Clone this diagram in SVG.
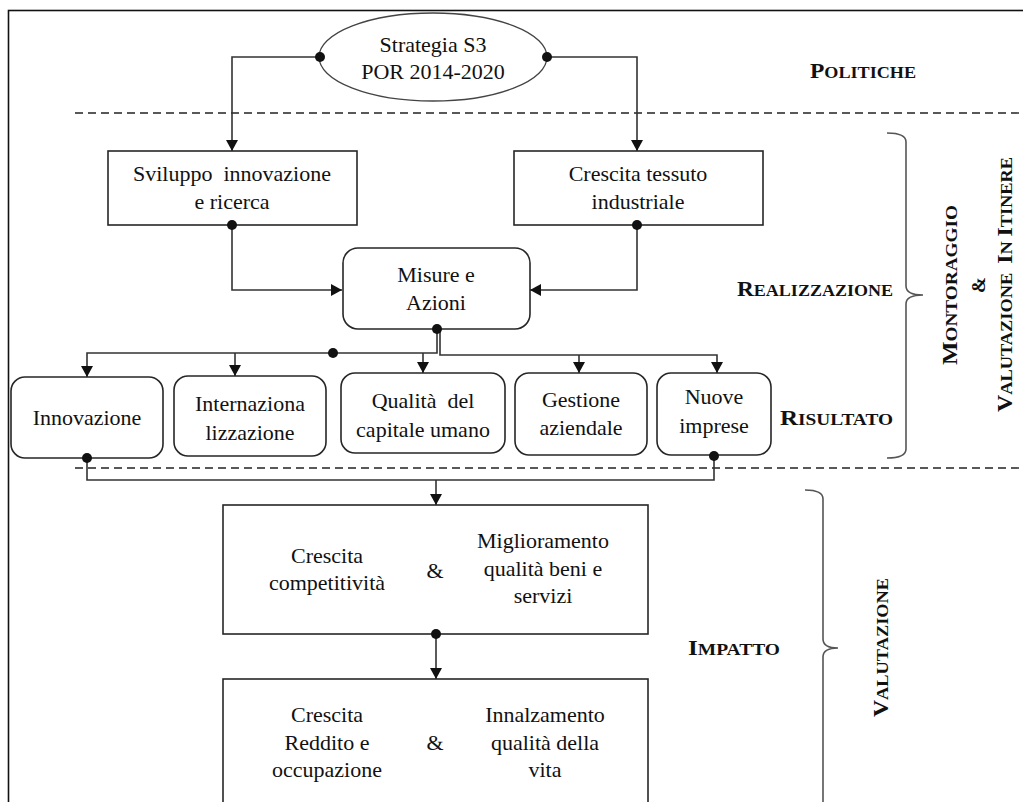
<svg xmlns="http://www.w3.org/2000/svg" width="1023" height="802" viewBox="0 0 1023 802">
<style>
.t{font-family:"Liberation Serif","Times New Roman",serif;font-size:22px;fill:#111;text-anchor:middle;white-space:pre}
.h{font-family:"Liberation Serif","Times New Roman",serif;font-weight:bold;fill:#111;white-space:pre}
.big{font-size:22px}
.sm{font-size:17px}
.box{fill:#fff;stroke:#262626;stroke-width:1.6}
.ell{fill:#fff;stroke:#444;stroke-width:1.3}
.con{fill:none;stroke:#333;stroke-width:1.6}
.arr{marker-end:url(#arr)}
.dash{stroke:#222;stroke-width:1.4;stroke-dasharray:8 5;fill:none}
.brace{fill:none;stroke:#555;stroke-width:1.6}
.dot{fill:#111}
</style>
<defs>
<marker id="arr" viewBox="0 0 11 12" refX="11" refY="6" markerWidth="11" markerHeight="12" markerUnits="userSpaceOnUse" orient="auto">
<path d="M0,0 L11,6 L0,12 z" fill="#111"/>
</marker>
</defs>
<rect width="1023" height="802" fill="#fff"/>
<rect x="8.5" y="10.5" width="1100" height="1000" fill="none" stroke="#111" stroke-width="1.6"/>

<g id="separators">
<line class="dash" x1="75" y1="113" x2="1023" y2="113"/>
<line class="dash" x1="75" y1="468" x2="1023" y2="468"/>
</g>

<g id="braces">
<path class="brace" d="M887,133 Q906,133 906,142 L906,286 Q906,295 923,295 Q906,295 906,304 L906,449 Q906,458 887,458"/>
<path class="brace" d="M805,490 Q823,490 823,499 L823,639 Q823,648 838,648 Q823,648 823,657 L823,810"/>
</g>

<g id="connectors">
<path class="con arr" d="M320,57 H232 V151"/>
<path class="con arr" d="M547,57 H637 V151"/>
<path class="con arr" d="M232,225 V290 H342"/>
<path class="con arr" d="M637,225 V290 H530"/>
<path class="con arr" d="M437,329 V353 H87 V377"/>
<path class="con arr" d="M235,353 V376"/>
<path class="con arr" d="M423,353 V373"/>
<path class="con arr" d="M440,329 V355 H717 V373"/>
<path class="con arr" d="M579,355 V373"/>
<path class="con" d="M87,458 V480 H714 V456"/>
<path class="con arr" d="M436,480 V505"/>
<path class="con arr" d="M436,634 V679"/>
</g>

<g id="strategia">
<ellipse class="ell" cx="433" cy="57" rx="114" ry="44"/>
<text class="t" x="433" y="52">Strategia S3</text>
<text class="t" x="433" y="79">POR 2014-2020</text>
</g>

<g id="sviluppo">
<rect class="box" x="108" y="151" width="249" height="74"/>
<text class="t" x="232" y="181">Sviluppo  innovazione</text>
<text class="t" x="232" y="209">e ricerca</text>
</g>

<g id="crescita-tessuto">
<rect class="box" x="514" y="151" width="249" height="74"/>
<text class="t" x="638" y="181">Crescita tessuto</text>
<text class="t" x="638" y="209">industriale</text>
</g>

<g id="misure">
<rect class="box" x="343" y="248" width="187" height="81" rx="15"/>
<text class="t" x="436" y="282">Misure e</text>
<text class="t" x="436" y="310">Azioni</text>
</g>

<g id="innovazione">
<rect class="box" x="11" y="377" width="152" height="81" rx="14"/>
<text class="t" x="87" y="425">Innovazione</text>
</g>

<g id="internazionalizzazione">
<rect class="box" x="174" y="376" width="152" height="80" rx="14"/>
<text class="t" x="250" y="411">Internaziona</text>
<text class="t" x="250" y="440">lizzazione</text>
</g>

<g id="qualita">
<rect class="box" x="341" y="373" width="164" height="80" rx="14"/>
<text class="t" x="423" y="408">Qualità  del</text>
<text class="t" x="423" y="437">capitale umano</text>
</g>

<g id="gestione">
<rect class="box" x="515" y="373" width="132" height="82" rx="14"/>
<text class="t" x="581" y="407">Gestione</text>
<text class="t" x="581" y="435">aziendale</text>
</g>

<g id="nuove">
<rect class="box" x="657" y="373" width="114" height="82" rx="14"/>
<text class="t" x="714" y="404">Nuove</text>
<text class="t" x="714" y="433">imprese</text>
</g>

<g id="impatto1">
<rect class="box" x="223" y="505" width="425" height="129"/>
<text class="t" x="327" y="563">Crescita</text>
<text class="t" x="327" y="590">competitività</text>
<text class="t" x="435" y="578">&amp;</text>
<text class="t" x="543" y="548">Miglioramento</text>
<text class="t" x="543" y="576">qualità beni e</text>
<text class="t" x="543" y="603">servizi</text>
</g>

<g id="impatto2">
<rect class="box" x="223" y="679" width="425" height="200"/>
<text class="t" x="327" y="722">Crescita</text>
<text class="t" x="327" y="750">Reddito e</text>
<text class="t" x="327" y="777">occupazione</text>
<text class="t" x="435" y="750">&amp;</text>
<text class="t" x="545" y="722">Innalzamento</text>
<text class="t" x="545" y="750">qualità della</text>
<text class="t" x="545" y="777">vita</text>
</g>

<g id="labels">
<text class="h" x="810" y="78" textLength="106" lengthAdjust="spacingAndGlyphs"><tspan class="big">P</tspan><tspan class="sm">OLITICHE</tspan></text>
<text class="h" x="737" y="296" textLength="156" lengthAdjust="spacingAndGlyphs"><tspan class="big">R</tspan><tspan class="sm">EALIZZAZIONE</tspan></text>
<text class="h" x="780" y="425" textLength="113" lengthAdjust="spacingAndGlyphs"><tspan class="big">R</tspan><tspan class="sm">ISULTATO</tspan></text>
<text class="h" x="688" y="655" textLength="92" lengthAdjust="spacingAndGlyphs"><tspan class="big">I</tspan><tspan class="sm">MPATTO</tspan></text>
<text class="h" x="957" y="365" transform="rotate(-90 957 365)" textLength="160" lengthAdjust="spacingAndGlyphs"><tspan class="big">M</tspan><tspan class="sm">ONTORAGGIO</tspan></text>
<text class="h" x="985" y="285" transform="rotate(-90 985 285)" text-anchor="middle" font-size="19">&amp;</text>
<text class="h" x="1012" y="412" transform="rotate(-90 1012 412)" textLength="255" lengthAdjust="spacingAndGlyphs"><tspan class="big">V</tspan><tspan class="sm">ALUTAZIONE  </tspan><tspan class="big">I</tspan><tspan class="sm">N </tspan><tspan class="big">I</tspan><tspan class="sm">TINERE</tspan></text>
<text class="h" x="888" y="717" transform="rotate(-90 888 717)" textLength="139" lengthAdjust="spacingAndGlyphs"><tspan class="big">V</tspan><tspan class="sm">ALUTAZIONE</tspan></text>
</g>

<g id="dots">
<circle class="dot" cx="320" cy="57" r="5"/>
<circle class="dot" cx="547" cy="57" r="5"/>
<circle class="dot" cx="232" cy="225" r="5"/>
<circle class="dot" cx="637" cy="225" r="5"/>
<circle class="dot" cx="437" cy="329" r="5"/>
<circle class="dot" cx="333" cy="353" r="5"/>
<circle class="dot" cx="87" cy="458" r="5"/>
<circle class="dot" cx="714" cy="456" r="5"/>
<circle class="dot" cx="436" cy="634" r="5"/>
</g>
</svg>
